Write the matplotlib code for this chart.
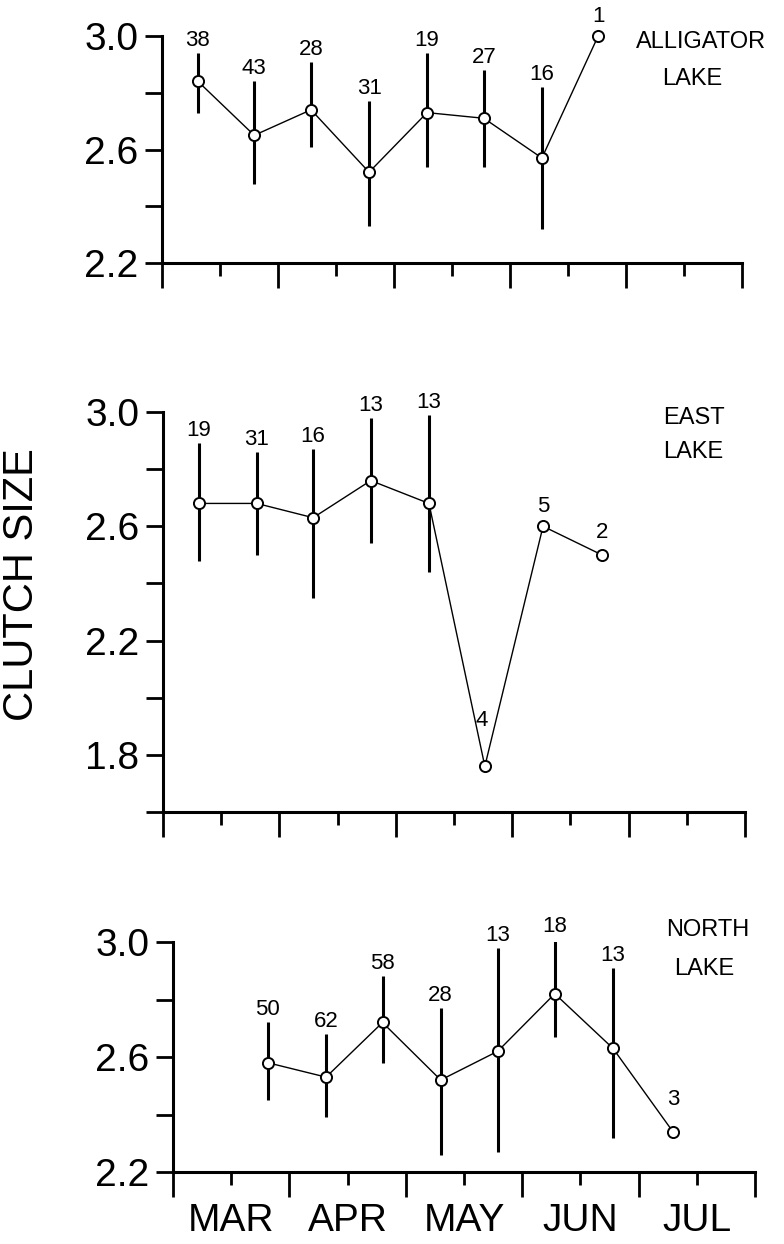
import matplotlib
matplotlib.use('Agg')
import matplotlib.pyplot as plt
import numpy as np

matplotlib.rcParams['font.family'] = ['Liberation Sans', 'DejaVu Sans']
matplotlib.rcParams['savefig.dpi'] = 100

MONTHS = ["MAR", "APR", "MAY", "JUN", "JUL"]

# x is in half-month steps counted from 1 March
alligatorX = [0.62, 1.59, 2.57, 3.57, 4.57, 5.55, 6.55, 7.52]
alligatorMean = [2.84, 2.65, 2.74, 2.52, 2.73, 2.71, 2.57, 3.00]
alligatorLow = [2.73, 2.48, 2.61, 2.33, 2.54, 2.54, 2.32, np.nan]
alligatorHigh = [2.94, 2.84, 2.91, 2.77, 2.94, 2.88, 2.82, np.nan]
alligatorN = [38, 43, 28, 31, 19, 27, 16, 1]

eastX = [0.62, 1.61, 2.58, 3.57, 4.57, 5.53, 6.53, 7.54]
eastMean = [2.68, 2.68, 2.63, 2.76, 2.68, 1.76, 2.60, 2.50]
eastLow = [2.48, 2.50, 2.35, 2.54, 2.44, np.nan, np.nan, np.nan]
eastHigh = [2.89, 2.86, 2.87, 2.98, 2.99, np.nan, np.nan, np.nan]
eastN = [19, 31, 16, 13, 13, 4, 5, 2]

northX = [1.63, 2.63, 3.60, 4.60, 5.58, 6.56, 7.56, 8.59]
northMean = [2.58, 2.53, 2.72, 2.52, 2.62, 2.82, 2.63, 2.34]
northLow = [2.45, 2.39, 2.58, 2.26, 2.27, 2.67, 2.32, np.nan]
northHigh = [2.72, 2.68, 2.88, 2.77, 2.98, 3.01, 2.91, np.nan]
northN = [50, 62, 58, 28, 13, 18, 13, 3]

W, H = 784, 1244


def pxRect(left, top, right, bottom):
    return [left / W, 1 - bottom / H, (right - left) / W, (bottom - top) / H]


def plotLake(ax, xs, mean, low, high, counts, ylim, yticks, ylabels, nameLines, nameOffsets):
    xs = np.array(xs)
    mean = np.array(mean)
    low = np.array(low)
    high = np.array(high)
    hasBar = ~np.isnan(low)

    ax.plot(xs, mean, color='black', lw=1.0, zorder=2, clip_on=False)
    ax.vlines(xs[hasBar], low[hasBar], high[hasBar], color='black', lw=2.2, zorder=1)
    ax.plot(xs, mean, 'o', ms=8, mfc='white', mec='black', mew=1.4, zorder=3, clip_on=False)

    for i, n in enumerate(counts):
        if hasBar[i]:
            ax.annotate(str(n), (xs[i], high[i]), xytext=(0, 9), textcoords='offset points',
                        ha='center', va='center', fontsize=16, annotation_clip=False)
        else:
            dx, dy = nameOffsets.get(i, (0, 14))
            ax.annotate(str(n), (xs[i], mean[i]), xytext=(dx, dy), textcoords='offset points',
                        ha='center', va='center', fontsize=16, annotation_clip=False)

    ax.set_xlim(0, 10)
    ax.set_ylim(*ylim)
    ax.spines['top'].set_visible(False)
    ax.spines['right'].set_visible(False)
    ax.spines['left'].set_linewidth(2.2)
    ax.spines['bottom'].set_linewidth(2.2)

    ax.set_yticks(yticks)
    ax.set_yticklabels(ylabels, fontsize=28)
    ax.tick_params(axis='y', direction='out', length=12, width=2, pad=5)

    ax.set_xticks(np.arange(0, 11, 2))
    ax.set_xticks(np.arange(1, 10, 2), minor=True)
    ax.set_xticklabels([])
    ax.tick_params(axis='x', which='major', direction='out', length=18, width=2)
    ax.tick_params(axis='x', which='minor', direction='out', length=9.5, width=2)

    for text, (px, py) in nameLines:
        ax.figure.text(px / W, 1 - py / H, text, ha='center', va='center', fontsize=17)


fig = plt.figure(figsize=(W / 100, H / 100), dpi=100)

axTop = fig.add_axes(pxRect(162, 36, 742, 263))
plotLake(axTop, alligatorX, alligatorMean, alligatorLow, alligatorHigh, alligatorN,
         (2.2, 3.0), [2.2, 2.4, 2.6, 2.8, 3.0], ['2.2', '', '2.6', '', '3.0'],
         [("ALLIGATOR", (701, 42)), ("LAKE", (692, 79))], {7: (0, 14)})

axMid = fig.add_axes(pxRect(163, 412, 745, 812))
plotLake(axMid, eastX, eastMean, eastLow, eastHigh, eastN,
         (1.6, 3.0), [1.6, 1.8, 2.0, 2.2, 2.4, 2.6, 2.8, 3.0],
         ['', '1.8', '', '2.2', '', '2.6', '', '3.0'],
         [("EAST", (694, 418)), ("LAKE", (693, 452))], {5: (-2, 33), 6: (0, 14), 7: (0, 16)})

axBot = fig.add_axes(pxRect(173, 942, 755, 1172))
plotLake(axBot, northX, northMean, northLow, northHigh, northN,
         (2.2, 3.0), [2.2, 2.4, 2.6, 2.8, 3.0], ['2.2', '', '2.6', '', '3.0'],
         [("NORTH", (708, 930)), ("LAKE", (704, 969))], {7: (0, 23)})
axBot.set_xticklabels(MONTHS, minor=True, fontsize=28)
axBot.tick_params(axis='x', which='minor', pad=13)

fig.text(22 / W, 1 - 585 / H, "CLUTCH SIZE", rotation=90, ha='center', va='center', fontsize=30)

fig.savefig("out.png", dpi=100)
